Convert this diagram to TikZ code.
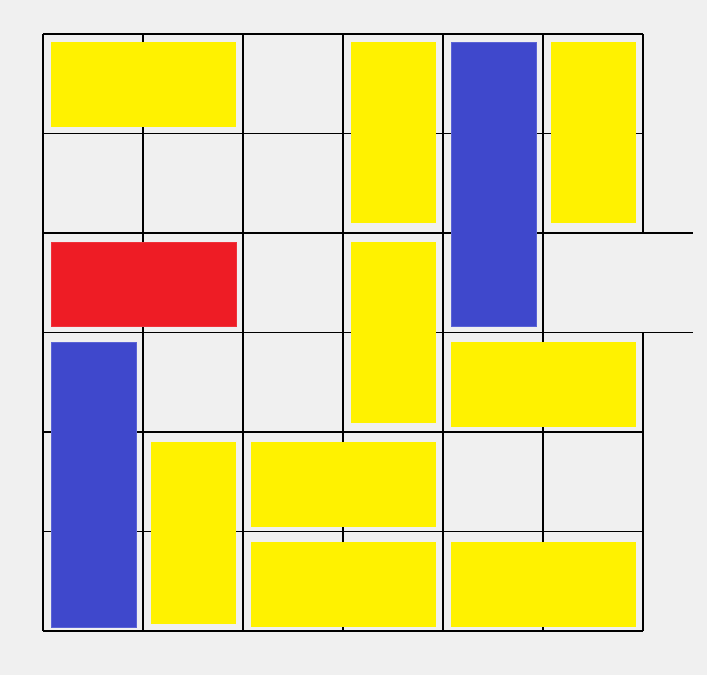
\documentclass[tikz,border=0pt]{standalone}
\usepackage{tikz}
\definecolor{bgcol}{HTML}{F0F0F0}
\definecolor{caryellow}{HTML}{FFF200}
\definecolor{carred}{HTML}{EE1C25}
\definecolor{carblue}{HTML}{3F48CC}
\definecolor{carblueedge}{HTML}{5A63D6}
\definecolor{carrededge}{HTML}{EF323A}

\begin{document}
\begin{tikzpicture}[x=0.01cm, y=-0.01cm]
    \tikzset{
      gridline/.style={line width=0.32pt, black},
      yellowcar/.style={fill=caryellow},
      redcar/.style={fill=carred, draw=carrededge, line width=0.25pt},
      bluecar/.style={fill=carblue, draw=carblueedge, line width=0.25pt}
    }

    % background and page size
    \fill[bgcol] (0,0) rectangle (707,675);
    \useasboundingbox (0,0) rectangle (707,675);

    % board grid (the exit on the right of row 3 is left open)
    \foreach \i in {0,...,5}
      \draw[gridline] ({43+100*\i},34) -- ({43+100*\i},631);
    \draw[gridline] (643,34) -- (643,233.5);
    \draw[gridline] (643,332.5) -- (643,631);
    \foreach \j in {0,1,4,5,6}
      \draw[gridline] (43,{34+99.5*\j}) -- (643,{34+99.5*\j});
    \draw[gridline] (43,233) -- (693,233);
    \draw[gridline] (43,332.5) -- (693,332.5);

    % top rows
    \fill[yellowcar] (51,42) rectangle (236,127);
    \fill[yellowcar] (351,42) rectangle (436,223);
    \draw[bluecar] (451,42) rectangle (536,326);
    \fill[yellowcar] (551,42) rectangle (636,223);

    % red car on the exit row
    \draw[redcar] (51,242) rectangle (236,326);
    \fill[yellowcar] (351,242) rectangle (436,423);

    % middle rows
    \fill[yellowcar] (451,342) rectangle (636,427);
    \draw[bluecar] (51,342) rectangle (136,627);

    % bottom rows
    \fill[yellowcar] (151,442) rectangle (236,624);
    \fill[yellowcar] (251,442) rectangle (436,527);
    \fill[yellowcar] (251,542) rectangle (436,627);
    \fill[yellowcar] (451,542) rectangle (636,627);
  \end{tikzpicture}
\end{document}
